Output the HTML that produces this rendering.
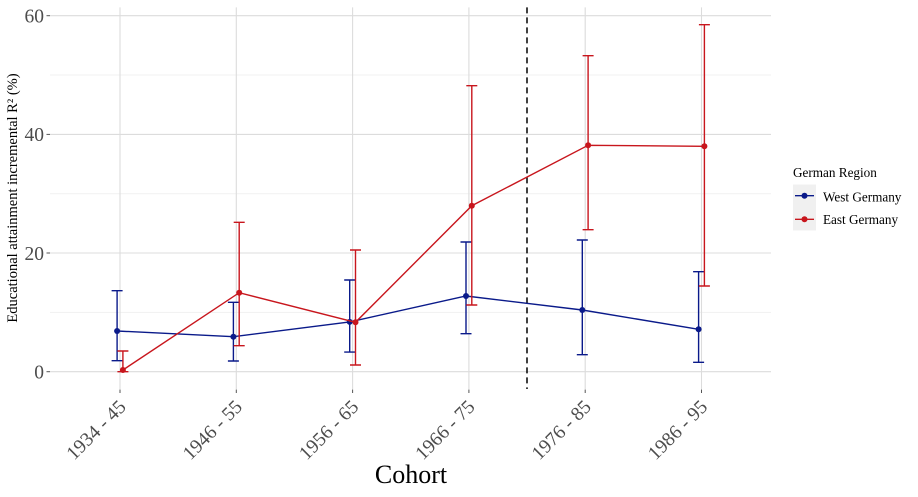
<!DOCTYPE html>
<html>
<head>
<meta charset="utf-8">
<style>
html,body{margin:0;padding:0;background:#fff;}
svg{display:block;}
text{font-family:"Liberation Serif","Times New Roman",serif;}
</style>
</head>
<body>
<svg width="918" height="497" viewBox="0 0 918 497" xmlns="http://www.w3.org/2000/svg">
<rect width="918" height="497" fill="#fff"/>
<!-- minor gridlines -->
<g stroke="#f1f1f1" stroke-width="1">
<line x1="50" x2="771" y1="312.4" y2="312.4"/>
<line x1="50" x2="771" y1="193.7" y2="193.7"/>
<line x1="50" x2="771" y1="75.0" y2="75.0"/>
</g>
<!-- major gridlines -->
<g stroke="#dcdcdc" stroke-width="1.1">
<line x1="50" x2="771" y1="371.7" y2="371.7"/>
<line x1="50" x2="771" y1="253.0" y2="253.0"/>
<line x1="50" x2="771" y1="134.4" y2="134.4"/>
<line x1="50" x2="771" y1="15.7" y2="15.7"/>
<line x1="120" x2="120" y1="7.4" y2="389"/>
<line x1="236.3" x2="236.3" y1="7.4" y2="389"/>
<line x1="352.6" x2="352.6" y1="7.4" y2="389"/>
<line x1="468.9" x2="468.9" y1="7.4" y2="389"/>
<line x1="585.2" x2="585.2" y1="7.4" y2="389"/>
<line x1="701.5" x2="701.5" y1="7.4" y2="389"/>
</g>
<!-- ticks -->
<g stroke="#555" stroke-width="1">
<line x1="46.5" x2="50" y1="371.7" y2="371.7"/>
<line x1="46.5" x2="50" y1="253.0" y2="253.0"/>
<line x1="46.5" x2="50" y1="134.4" y2="134.4"/>
<line x1="46.5" x2="50" y1="15.7" y2="15.7"/>
<line x1="120" x2="120" y1="389.5" y2="393"/>
<line x1="236.3" x2="236.3" y1="389.5" y2="393"/>
<line x1="352.6" x2="352.6" y1="389.5" y2="393"/>
<line x1="468.9" x2="468.9" y1="389.5" y2="393"/>
<line x1="585.2" x2="585.2" y1="389.5" y2="393"/>
<line x1="701.5" x2="701.5" y1="389.5" y2="393"/>
</g>
<g fill="#4d4d4d" font-size="19.5" text-anchor="end">
<text x="44" y="378.5">0</text>
<text x="44" y="259.8">20</text>
<text x="44" y="141.2">40</text>
<text x="44" y="22.5">60</text>
</g>
<g fill="#4d4d4d" font-size="19.5" text-anchor="end">
<text transform="translate(127,408) rotate(-45)">1934 - 45</text>
<text transform="translate(243.3,408) rotate(-45)">1946 - 55</text>
<text transform="translate(359.6,408) rotate(-45)">1956 - 65</text>
<text transform="translate(475.9,408) rotate(-45)">1966 - 75</text>
<text transform="translate(592.2,408) rotate(-45)">1976 - 85</text>
<text transform="translate(708.5,408) rotate(-45)">1986 - 95</text>
</g>
<text x="411" y="483" font-size="26" text-anchor="middle" fill="#000">Cohort</text>
<text transform="translate(17,198) rotate(-90)" font-size="14.5" text-anchor="middle" fill="#000">Educational attainment incremental R² (%)</text>

<!-- dashed line -->
<line x1="527" x2="527" y1="7.4" y2="389" stroke="#000" stroke-width="1.5" stroke-dasharray="6,4"/>

<!-- West Germany -->
<g stroke="#0a1a8a" stroke-width="1.4" fill="none">
<path d="M117.1,290.7V360.7M111.6,290.7H122.6M111.6,360.7H122.6"/>
<path d="M233.4,302.3V361M227.9,302.3H238.9M227.9,361H238.9"/>
<path d="M349.7,280V352.1M344.2,280H355.2M344.2,352.1H355.2"/>
<path d="M466,242V333.7M460.5,242H471.5M460.5,333.7H471.5"/>
<path d="M582.3,240V354.7M576.8,240H587.8M576.8,354.7H587.8"/>
<path d="M698.6,271.7V362.3M693.1,271.7H704.1M693.1,362.3H704.1"/>
<polyline points="117.1,331 233.4,336.7 349.7,321.9 466,296 582.3,310 698.6,329.3"/>
</g>
<g fill="#0a1a8a">
<circle cx="117.1" cy="331" r="3"/>
<circle cx="233.4" cy="336.7" r="3"/>
<circle cx="349.7" cy="321.9" r="3"/>
<circle cx="466" cy="296" r="3"/>
<circle cx="582.3" cy="310" r="3"/>
<circle cx="698.6" cy="329.3" r="3"/>
</g>

<!-- East Germany -->
<g stroke="#c8161d" stroke-width="1.4" fill="none">
<path d="M122.9,351V371.7M117.4,351H128.4M117.4,371.7H128.4"/>
<path d="M239.2,222.3V345.7M233.7,222.3H244.7M233.7,345.7H244.7"/>
<path d="M355.5,250V365M350,250H361M350,365H361"/>
<path d="M471.8,85.7V305M466.3,85.7H477.3M466.3,305H477.3"/>
<path d="M588.1,55.7V229.7M582.6,55.7H593.6M582.6,229.7H593.6"/>
<path d="M704.4,24.7V286M698.9,24.7H709.9M698.9,286H709.9"/>
<polyline points="122.9,370 239.2,292.7 355.5,322.3 471.8,205.7 588.1,145.3 704.4,146.3"/>
</g>
<g fill="#c8161d">
<circle cx="122.9" cy="370" r="3"/>
<circle cx="239.2" cy="292.7" r="3"/>
<circle cx="355.5" cy="322.3" r="3"/>
<circle cx="471.8" cy="205.7" r="3"/>
<circle cx="588.1" cy="145.3" r="3"/>
<circle cx="704.4" cy="146.3" r="3"/>
</g>

<!-- legend -->
<text x="793" y="177" font-size="13.2" fill="#000">German Region</text>
<rect x="793" y="184.5" width="23" height="46" fill="#f0f0f0"/>
<line x1="795" x2="814" y1="195.7" y2="195.7" stroke="#0a1a8a" stroke-width="1.4"/>
<circle cx="804.5" cy="195.7" r="3" fill="#0a1a8a"/>
<line x1="795" x2="814" y1="219.3" y2="219.3" stroke="#c8161d" stroke-width="1.4"/>
<circle cx="804.5" cy="219.3" r="3" fill="#c8161d"/>
<text x="823" y="201.5" font-size="13.2" fill="#000">West Germany</text>
<text x="823" y="224" font-size="13.2" fill="#000">East Germany</text>
</svg>
</body>
</html>
